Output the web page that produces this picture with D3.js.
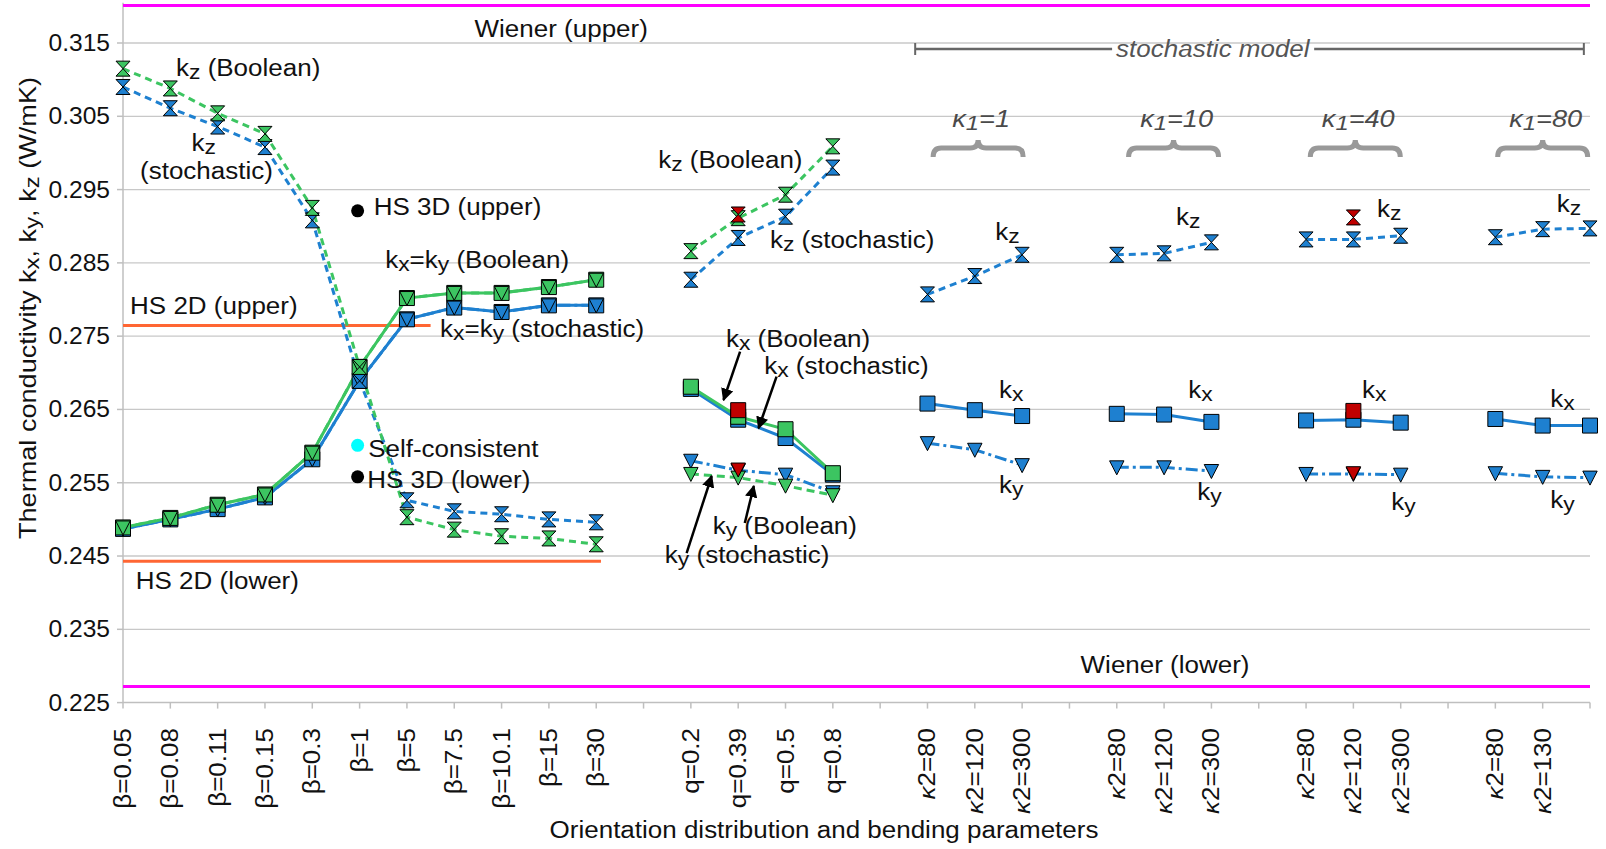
<!DOCTYPE html>
<html>
<head>
<meta charset="utf-8">
<script src="https://cdn.jsdelivr.net/npm/d3@7"></script>
<style>
body { margin: 0; background: #fff; }
text { font-family: "Liberation Sans", Arial, sans-serif; fill: #111; }
</style>
</head>
<body>
<div id="c"></div>
<script>
// categories (32 slots, blanks are the gaps between groups)
var categories = ["β=0.05","β=0.08","β=0.11","β=0.15","β=0.3","β=1","β=5","β=7.5","β=10.1","β=15","β=30","",
	"q=0.2","q=0.39","q=0.5","q=0.8","",
	"[κ]2=80","[κ]2=120","[κ]2=300","",
	"[κ]2=80","[κ]2=120","[κ]2=300","",
	"[κ]2=80","[κ]2=120","[κ]2=300","",
	"[κ]2=80","[κ]2=130",""];

var kx_bool = [0.2489,0.2502,0.2520,0.2534,0.2591,0.2708,0.2802,0.2809,0.2809,0.2817,0.2827,null,
	0.2681,0.2640,0.2623,0.2563,null,
	null,null,null,null,null,null,null,null,null,null,null,null,null,null,null];
var kx_sto = [0.2487,0.2500,0.2514,0.2530,0.2582,0.2689,0.2773,0.2789,0.2783,0.2792,0.2792,null,
	0.2678,0.2636,0.2611,0.2561,null,
	0.2658,0.2649,0.2641,null,0.2644,0.2643,0.2633,null,0.2635,0.2636,0.2632,null,0.2637,0.2628,0.2628];
var ky_bool = [0.2489,0.2502,0.2520,0.2534,0.2591,0.2708,0.2802,0.2809,0.2809,0.2817,0.2827,null,
	0.2562,0.2557,0.2546,0.2533,null,
	null,null,null,null,null,null,null,null,null,null,null,null,null,null,null];
var ky_sto = [0.2487,0.2500,0.2514,0.2530,0.2582,0.2689,0.2773,0.2789,0.2783,0.2792,0.2792,null,
	0.2580,0.2567,0.2561,0.2537,null,
	0.2604,0.2595,0.2574,null,0.2571,0.2571,0.2566,null,0.2562,0.2562,0.2561,null,0.2563,0.2558,0.2557];
var kz_bool = [0.3115,0.3088,0.3054,0.3026,0.2925,0.2708,0.2503,0.2486,0.2477,0.2474,0.2466,null,
	0.2866,0.2911,0.2943,0.3009,null,
	null,null,null,null,null,null,null,null,null,null,null,null,null,null,null];
var kz_sto = [0.3090,0.3061,0.3036,0.3008,0.2908,0.2689,0.2526,0.2511,0.2507,0.2500,0.2496,null,
	0.2827,0.2884,0.2913,0.2980,null,
	0.2807,0.2832,0.2861,null,0.2861,0.2863,0.2878,null,0.2882,0.2882,0.2887,null,0.2885,0.2896,0.2897];

// other model (red) points
var red_idx = [13, 26];
var red_kz = [0.2916, 0.2912];
var red_kx = [0.2649, 0.2648];
var red_ky = [0.2568, 0.2563];

// bounds
var wiener_upper = 0.3201, wiener_lower = 0.2272;
var hs2d_upper = 0.27646, hs2d_upper_end = 6.5;
var hs2d_lower = 0.24428, hs2d_lower_end = 10.1;
var hs3d_upper = 0.2921, hs3d_lower = 0.2558, self_consistent = 0.2601, beta1_idx = 5;

var y_ticks = [0.225,0.235,0.245,0.255,0.265,0.275,0.285,0.295,0.305,0.315];

// stochastic model groups
var k1_labels = ["1", "10", "40", "80"];
var brace_centers = [18.07, 22.2, 26.04, 30.0];

var width = 1606, height = 849;
var green = "#3cc561", blue = "#1e80d0", red = "#c00000";

var svg = d3.select("#c").append("svg")
	.attr("width", width)
	.attr("height", height);

var x_scale = d3.scaleLinear()
	.domain([0, categories.length - 1])
	.range([123, 1590]);

var y_scale = d3.scaleLinear()
	.domain([0.225, 0.315])
	.range([702.6, 43]);

var y_top = y_scale(0.3205);

function rich_text(parent, x, y, str, o) {
	o = o || {};
	var t = parent.append("text")
		.attr("transform", "translate(" + x + "," + y + ")" + (o.rotate ? " rotate(" + o.rotate + ")" : "") + " scale(" + (o.sx || 1.13) + ",1)")
		.attr("text-anchor", o.anchor || "start")
		.style("font-size", (o.size || 23) + "px");
	if (o.italic) t.style("font-style", "italic");
	if (o.fill) t.style("fill", o.fill);
	var parts = str.split(/(\{[^}]*\}|\[[^\]]*\])/);
	var shifted = false;
	parts.forEach(function(p) {
		if (!p) return;
		var ts;
		if (p[0] === "{") {
			ts = t.append("tspan").attr("dy", 3).style("font-size", "0.88em").text(p.slice(1, -1));
			shifted = true;
			return;
		}
		if (p[0] === "[") {
			ts = t.append("tspan").style("font-style", "italic").text(p.slice(1, -1));
		} else {
			ts = t.append("tspan").text(p);
		}
		if (shifted) { ts.attr("dy", -3); shifted = false; }
	});
	return t;
}

// grid
svg.append("g").selectAll("line")
	.data(y_ticks.slice(1))
	.enter().append("line")
	.attr("x1", x_scale(0)).attr("x2", x_scale(categories.length - 1))
	.attr("y1", function(d) { return y_scale(d); })
	.attr("y2", function(d) { return y_scale(d); })
	.attr("stroke", "#c8c8c8").attr("stroke-width", 1.3);

// axes
svg.append("line")
	.attr("x1", x_scale(0)).attr("x2", x_scale(0))
	.attr("y1", y_top).attr("y2", y_scale(0.225))
	.attr("stroke", "#bfbfbf").attr("stroke-width", 1.5);
svg.append("line")
	.attr("x1", x_scale(0)).attr("x2", x_scale(categories.length - 1))
	.attr("y1", y_scale(0.225)).attr("y2", y_scale(0.225))
	.attr("stroke", "#bfbfbf").attr("stroke-width", 1.5);

svg.append("g").selectAll("line")
	.data(y_ticks)
	.enter().append("line")
	.attr("x1", x_scale(0) - 6).attr("x2", x_scale(0))
	.attr("y1", function(d) { return y_scale(d); })
	.attr("y2", function(d) { return y_scale(d); })
	.attr("stroke", "#bfbfbf").attr("stroke-width", 1.5);

svg.append("g").selectAll("line")
	.data(d3.range(categories.length))
	.enter().append("line")
	.attr("x1", function(d) { return x_scale(d); })
	.attr("x2", function(d) { return x_scale(d); })
	.attr("y1", y_scale(0.225)).attr("y2", y_scale(0.225) + 6)
	.attr("stroke", "#bfbfbf").attr("stroke-width", 1.5);

var tick_g = svg.append("g");
y_ticks.forEach(function(v) {
	rich_text(tick_g, 110, y_scale(v) + 8, d3.format(".3f")(v), { anchor: "end", sx: 1.07 });
});

categories.forEach(function(c, i) {
	if (c === "") return;
	rich_text(tick_g, x_scale(i) + 8, 728, c, { anchor: "end", rotate: -90 });
});

rich_text(svg, 824, 838, "Orientation distribution and bending parameters", { anchor: "middle" });
rich_text(svg, 36, 308, "Thermal conductivity k{x}, k{y}, k{z} (W/mK)", { anchor: "middle", rotate: -90, size: 24 });

// bound lines
var bounds = svg.append("g");
[wiener_upper, wiener_lower].forEach(function(v) {
	bounds.append("line")
		.attr("x1", x_scale(0)).attr("x2", x_scale(categories.length - 1))
		.attr("y1", y_scale(v)).attr("y2", y_scale(v))
		.attr("stroke", "#ff00ff").attr("stroke-width", 3);
});
[[hs2d_upper, hs2d_upper_end], [hs2d_lower, hs2d_lower_end]].forEach(function(b) {
	bounds.append("line")
		.attr("x1", x_scale(0)).attr("x2", x_scale(b[1]))
		.attr("y1", y_scale(b[0])).attr("y2", y_scale(b[0]))
		.attr("stroke", "#ff6633").attr("stroke-width", 3);
});

// series lines
var line_gen = d3.line()
	.defined(function(d) { return d !== null; })
	.x(function(d, i) { return x_scale(i); })
	.y(function(d) { return y_scale(d); });

var series = [
	{ data: ky_sto, color: blue, dash: "12,4,3,4", marker: "tri" },
	{ data: kx_sto, color: blue, dash: null, marker: "sq" },
	{ data: kz_sto, color: blue, dash: "7,5", marker: "hg" },
	{ data: ky_bool, color: green, dash: "8,5", marker: "tri" },
	{ data: kx_bool, color: green, dash: null, marker: "sq" },
	{ data: kz_bool, color: green, dash: "7,5", marker: "hg" }
];

var shapes = {
	sq: "M-7.5,-7.5H7.5V7.5H-7.5Z",
	tri: "M-7.2,-6.5L7.2,-6.5L0,7.5Z",
	hg: "M-7,-7.5L7,-7.5L-7,7.5L7,7.5Z"
};

var lines_g = svg.append("g");
series.forEach(function(s) {
	lines_g.append("path")
		.attr("d", line_gen(s.data))
		.attr("fill", "none")
		.attr("stroke", s.color)
		.attr("stroke-width", 3)
		.attr("stroke-dasharray", s.dash);
});

var marks_g = svg.append("g");
// markers: stochastic first so the Boolean ones sit on top
[[0, 1, 2], [3, 4, 5]].forEach(function(grp) {
	[1, 0, 2].forEach(function(k) {
		var s = series[grp[k]];
		s.data.forEach(function(v, i) {
			if (v === null) return;
			marks_g.append("path")
				.attr("d", shapes[s.marker])
				.attr("transform", "translate(" + x_scale(i) + "," + y_scale(v) + ")")
				.attr("fill", s.color)
				.attr("stroke", "#000")
				.attr("stroke-width", 1);
		});
	});
});

// red points
red_idx.forEach(function(c, j) {
	[[red_kx[j], "sq"], [red_ky[j], "tri"], [red_kz[j], "hg"]].forEach(function(p) {
		marks_g.append("path")
			.attr("d", shapes[p[1]])
			.attr("transform", "translate(" + x_scale(c) + "," + y_scale(p[0]) + ")")
			.attr("fill", red)
			.attr("stroke", "#000")
			.attr("stroke-width", 1);
	});
});

// single points at beta=1
[[hs3d_upper, "#000"], [hs3d_lower, "#000"], [self_consistent, "#00ffff"]].forEach(function(p) {
	marks_g.append("circle")
		.attr("cx", x_scale(beta1_idx) - 2)
		.attr("cy", y_scale(p[0]))
		.attr("r", 6.5)
		.attr("fill", p[1]);
});

// annotations: [category, value, text, anchor]
var notes = [
	[1.12, 0.31050, "k{z} (Boolean)", "start"],
	[1.45, 0.30030, "k{z}", "start"],
	[0.36, 0.29640, "(stochastic)", "start"],
	[5.30, 0.29153, "HS 3D (upper)", "start"],
	[5.54, 0.28426, "k{x}=k{y} (Boolean)", "start"],
	[6.70, 0.27484, "k{x}=k{y} (stochastic)", "start"],
	[0.15, 0.27802, "HS 2D (upper)", "start"],
	[5.18, 0.25855, "Self-consistent", "start"],
	[5.16, 0.25424, "HS 3D (lower)", "start"],
	[0.27, 0.24050, "HS 2D (lower)", "start"],
	[9.26, 0.31582, "Wiener (upper)", "middle"],
	[22.02, 0.22904, "Wiener (lower)", "middle"],
	[11.31, 0.29794, "k{z} (Boolean)", "start"],
	[13.67, 0.28703, "k{z} (stochastic)", "start"],
	[12.74, 0.27348, "k{x} (Boolean)", "start"],
	[13.55, 0.26980, "k{x} (stochastic)", "start"],
	[12.46, 0.24800, "k{y} (Boolean)", "start"],
	[11.45, 0.24400, "k{y} (stochastic)", "start"],
	[18.43, 0.28812, "k{z}", "start"], [22.25, 0.29017, "k{z}", "start"],
	[26.50, 0.29126, "k{z}", "start"], [30.30, 0.29194, "k{z}", "start"],
	[18.51, 0.26656, "k{x}", "start"], [22.51, 0.26656, "k{x}", "start"],
	[26.18, 0.26656, "k{x}", "start"], [30.16, 0.26533, "k{x}", "start"],
	[18.51, 0.25360, "k{y}", "start"], [22.70, 0.25264, "k{y}", "start"],
	[26.80, 0.25128, "k{y}", "start"], [30.16, 0.25155, "k{y}", "start"]
];
var notes_g = svg.append("g");
notes.forEach(function(n) {
	rich_text(notes_g, x_scale(n[0]), y_scale(n[1]), n[2], { anchor: n[3] });
});

// arrows: [from cat, from val, to cat, to val]
var arrows = [
	[13.04, 0.27288, 12.69, 0.26629],
	[13.81, 0.26947, 13.43, 0.26243],
	[13.14, 0.24951, 13.33, 0.25456],
	[11.91, 0.24541, 12.44, 0.25592]
];
svg.append("defs").append("marker")
	.attr("id", "ah")
	.attr("viewBox", "0 0 10 10")
	.attr("refX", 9).attr("refY", 5)
	.attr("markerWidth", 5).attr("markerHeight", 5)
	.attr("markerUnits", "strokeWidth")
	.attr("orient", "auto")
	.append("path").attr("d", "M0,0L10,5L0,10Z").attr("fill", "#000");
arrows.forEach(function(a) {
	notes_g.append("line")
		.attr("x1", x_scale(a[0])).attr("y1", y_scale(a[1]))
		.attr("x2", x_scale(a[2])).attr("y2", y_scale(a[3]))
		.attr("stroke", "#000").attr("stroke-width", 2.5)
		.attr("marker-end", "url(#ah)");
});

// stochastic model header
var head_y = y_scale(0.31418);
var hx0 = x_scale(16.74), hx1 = x_scale(30.87);
var head = svg.append("g");
head.append("line").attr("x1", hx0).attr("x2", hx1).attr("y1", head_y).attr("y2", head_y)
	.attr("stroke", "#666").attr("stroke-width", 2.5);
[hx0, hx1].forEach(function(x) {
	head.append("line").attr("x1", x).attr("x2", x).attr("y1", head_y - 6).attr("y2", head_y + 6)
		.attr("stroke", "#666").attr("stroke-width", 2);
});
var head_bg = head.append("rect").attr("fill", "#fff");
var head_t = rich_text(head, x_scale(23.03), y_scale(0.31309), "stochastic model", { anchor: "middle", italic: true, fill: "#555" });
var bb = head_t.node().getBoundingClientRect();
head_bg.attr("x", bb.left - 4).attr("y", head_y - 3).attr("width", bb.width + 8).attr("height", 6);

// braces and kappa1 labels
var brace_g = svg.append("g");
brace_centers.forEach(function(c, i) {
	var xc = x_scale(c), hw = 45, r = 8;
	var yt = y_scale(0.30176), ym = yt + 8, yb = yt + 17;
	var p = "M" + (xc - hw) + "," + yb + " Q" + (xc - hw) + "," + ym + " " + (xc - hw + r) + "," + ym +
		" L" + (xc - r) + "," + ym + " Q" + xc + "," + ym + " " + xc + "," + yt +
		" Q" + xc + "," + ym + " " + (xc + r) + "," + ym +
		" L" + (xc + hw - r) + "," + ym + " Q" + (xc + hw) + "," + ym + " " + (xc + hw) + "," + yb;
	brace_g.append("path").attr("d", p).attr("fill", "none")
		.attr("stroke", "#999").attr("stroke-width", 5);
	rich_text(brace_g, xc + 3, y_scale(0.30358), "κ{1}=" + k1_labels[i], { anchor: "middle", italic: true, fill: "#4a4a4a", size: 24 });
});
</script>
</body>
</html>
